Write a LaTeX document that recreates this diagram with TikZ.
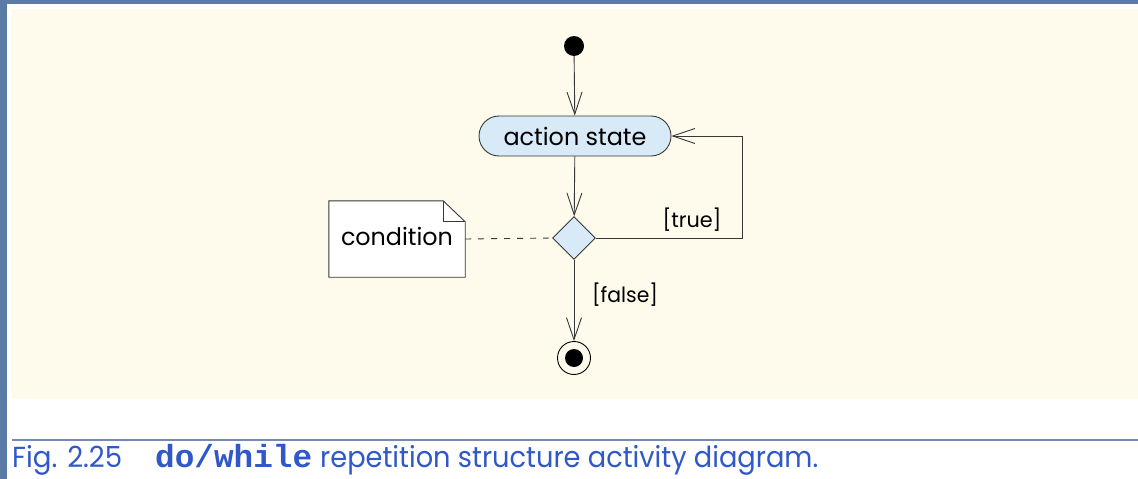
\documentclass[tikz,border=0pt]{standalone}
\usepackage{fontspec}
\setmainfont{Poppins}
\newfontfamily\codefont{Liberation Mono}
\usetikzlibrary{arrows.meta,shapes.geometric}

\definecolor{framebg}{RGB}{91,123,167}
\definecolor{creambg}{RGB}{254,250,236}
\definecolor{nodefill}{RGB}{216,234,248}
\definecolor{linegray}{RGB}{55,55,55}
\definecolor{captionblue}{RGB}{48,88,200}
\definecolor{rulecolor}{RGB}{118,138,178}

% set a text to a given width, keeping its height
\newcommand{\fitto}[2]{\resizebox{#1}{\height}{#2}}

\tikzset{
  flow/.style={draw=linegray, line width=0.9pt,
    -{Straight Barb[length=22pt,width=15pt,line width=0.9pt]}},
  startdot/.style={circle, fill=black, minimum size=20pt, inner sep=0pt},
  actionbox/.style={draw=linegray, line width=0.9pt, fill=nodefill,
    rounded corners=20pt, minimum width=192pt, minimum height=40pt,
    inner sep=0pt, font=\fontsize{24}{28}\selectfont},
  decision/.style={diamond, draw=linegray, line width=0.9pt, fill=nodefill,
    shape aspect=1, minimum size=43pt, inner sep=0pt},
  finalstate/.style={circle, draw=black, line width=0.9pt, fill=creambg,
    minimum size=33pt, inner sep=0pt,
    path picture={\fill[black] (path picture bounding box.center) circle (9pt);}},
  notebox/.style={minimum width=136pt, minimum height=76pt, inner sep=0pt},
  notelabel/.style={font=\fontsize{24}{28}\selectfont, inner sep=0pt},
  guard/.style={font=\fontsize{21}{25}\selectfont, inner sep=0pt},
  captext/.style={anchor=base west, inner sep=0pt, text=captionblue,
    font=\fontsize{29}{33}\selectfont},
}

\begin{document}
\begin{tikzpicture}[x=1pt,y=-1pt]
  \useasboundingbox (0,0) rectangle (1138,479);
  % slide frame and panels
  \fill[framebg] (0,0) rectangle (1138,479);
  \fill[white] (7,4) rectangle (1138,479);
  \fill[creambg] (11,9) rectangle (1138,399);

  % activity nodes
  \node[startdot] (init) at (574,46) {};
  \node[actionbox] (act) at (575,136) {\fitto{143pt}{action state}};
  \node[decision] (dec) at (574,238) {};
  \node[finalstate] (fin) at (574,358) {};

  % note with folded corner
  \node[notebox] (note) at (397,239) {};
  \draw[linegray, line width=0.9pt, fill=white]
    (note.south west) -- (note.north west) -- ([xshift=-22pt]note.north east)
    -- ([yshift=-21pt]note.north east) -- (note.south east) -- cycle;
  \draw[linegray, line width=0.9pt]
    ([xshift=-22pt]note.north east) -- ([xshift=-22pt,yshift=-21pt]note.north east)
    -- ([yshift=-21pt]note.north east);
  \node[notelabel] (notetext) at (397,236) {\fitto{112pt}{condition}};

  % transitions
  \draw[flow] (init) -- (act);
  \draw[flow] (act) -- (dec);
  \draw[flow] (dec) -- (fin);
  \draw[flow] (dec.east) -- ++(146,0) |- (act.east);
  \draw[linegray, line width=0.9pt, dash pattern=on 6pt off 7pt] (note.east) -- (dec.west);

  % guards
  \node[guard] (gtrue) at (692,220) {\fitto{59pt}{[true]}};
  \node[guard] (gfalse) at (625,295) {\fitto{66pt}{[false]}};

  % caption
  \draw[rulecolor, line width=2pt] (12,439.5) -- (1138,439.5);
  \node[captext] (figno) at (12,467) {\fitto{110pt}{Fig. 2.25}};
  \node[captext, font=\codefont\bfseries\fontsize{32}{36}\selectfont] (kw) at (155,467) {\fitto{157pt}{do/while}};
  \node[captext] (captail) at (320,467) {\fitto{498pt}{repetition structure activity diagram.}};
\end{tikzpicture}
\end{document}
